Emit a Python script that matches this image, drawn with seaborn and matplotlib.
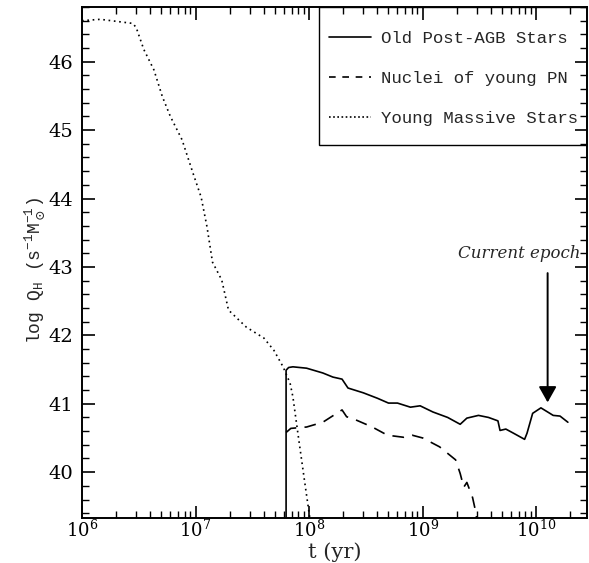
import numpy as np
import pandas as pd
import matplotlib
matplotlib.use("Agg")
import matplotlib.pyplot as plt
import matplotlib.ticker as mticker
from matplotlib.patches import Rectangle
from matplotlib.lines import Line2D
import seaborn as sns

# ---- data ----
young_t = [1.0e6, 1.45e6, 2.8e6, 3.0e6, 3.5e6, 4.3e6, 5.1e6, 6.0e6, 7.6e6, 9.5e6,
           1.12e7, 1.26e7, 1.41e7, 1.7e7, 1.95e7, 2.8e7, 4.0e7, 4.9e7, 5.9e7,
           6.8e7, 7.2e7, 7.9e7, 9.1e7, 1.02e8]
young_q = [46.60, 46.62, 46.56, 46.50, 46.18, 45.88, 45.49, 45.20, 44.86, 44.37,
           44.02, 43.59, 43.07, 42.81, 42.37, 42.12, 41.96, 41.78, 41.54,
           41.30, 41.10, 40.61, 39.88, 39.30]

old_t = [6.27e7, 6.27e7, 6.6e7, 7.2e7, 9.5e7, 1.32e8, 1.62e8, 1.95e8, 2.2e8, 3.0e8,
         4.0e8, 5.0e8, 6.0e8, 7.8e8, 9.5e8, 1.23e9, 1.66e9, 2.14e9, 2.45e9, 3.1e9,
         3.8e9, 4.6e9, 4.8e9, 5.4e9, 6.3e9, 7.9e9, 8.3e9, 9.3e9, 1.1e10, 1.26e10,
         1.41e10, 1.62e10, 1.9e10]
old_q = [39.0, 41.49, 41.53, 41.54, 41.52, 41.45, 41.39, 41.36, 41.23, 41.16,
         41.08, 41.01, 41.01, 40.95, 40.97, 40.88, 40.80, 40.70, 40.79, 40.83,
         40.80, 40.75, 40.61, 40.63, 40.57, 40.48, 40.57, 40.86, 40.94, 40.88,
         40.83, 40.82, 40.73]

pn_t = [6.27e7, 6.9e7, 9.5e7, 1.32e8, 1.95e8, 2.14e8, 2.45e8, 3.6e8, 4.9e8, 6.8e8,
        8.1e8, 1.0e9, 1.41e9, 1.95e9, 2.14e9, 2.3e9, 2.45e9, 2.75e9, 2.95e9, 3.0e9]
pn_q = [40.58, 40.64, 40.66, 40.73, 40.91, 40.81, 40.78, 40.66, 40.54, 40.51,
        40.54, 40.50, 40.37, 40.18, 39.98, 39.78, 39.85, 39.63, 39.40, 39.30]

labels = ["Old Post-AGB Stars", "Nuclei of young PN", "Young Massive Stars"]
x_ticks = [1e6, 1e7, 1e8, 1e9, 1e10]
y_ticks = [40, 41, 42, 43, 44, 45, 46]
epoch_t = 1.26e10
epoch_text = "Current epoch"

# ---- style ----
sns.set_theme(style="ticks")
plt.rcParams["font.family"] = ["DejaVu Serif"]
plt.rcParams["mathtext.fontset"] = "dejavuserif"

fig = plt.figure(figsize=(5.89, 5.63), dpi=100)
ax = fig.add_axes([82/589, 1-518/563, (587-82)/589, (518-7)/563])

lw = 1.2
sns.lineplot(x=old_t, y=old_q, ax=ax, color="black", lw=lw, sort=False,
             estimator=None, linestyle="-")
sns.lineplot(x=pn_t, y=pn_q, ax=ax, color="black", lw=lw, sort=False,
             estimator=None, dashes=False)
sns.lineplot(x=young_t, y=young_q, ax=ax, color="black", lw=lw, sort=False,
             estimator=None)
lines = ax.get_lines()
lines[1].set_linestyle((0, (7, 5)))
lines[2].set_linestyle((0, (1, 2.2)))

ax.set_xscale("log")
ax.set_xlim(1e6, 2.8e10)
ax.set_ylim(39.33, 46.8)
ax.xaxis.set_major_locator(mticker.FixedLocator(x_ticks))
ax.xaxis.set_major_formatter(mticker.LogFormatterSciNotation())
ax.xaxis.set_minor_locator(mticker.LogLocator(base=10, subs=np.arange(2, 10), numticks=50))
ax.xaxis.set_minor_formatter(mticker.NullFormatter())
ax.yaxis.set_major_locator(mticker.FixedLocator(y_ticks))
ax.yaxis.set_minor_locator(mticker.MultipleLocator(0.2))

ax.tick_params(which="both", direction="in", top=True, right=True, color="black",
               labelcolor="black")
ax.tick_params(which="major", length=9, width=1.2, labelsize=14)
ax.tick_params(axis="y", which="major", pad=6)
ax.tick_params(axis="x", which="major", pad=1, labelsize=13)
ax.tick_params(which="minor", length=5, width=1.0)
for s in ax.spines.values():
    s.set_linewidth(1.4)
    s.set_color("black")

ax.set_xlabel("t (yr)", fontsize=15)
ax.xaxis.set_label_coords(0.5, -0.048)
ax.set_ylabel(r"log Q$_\mathregular{H}$ (s$^\mathregular{-1}$M$_\odot^\mathregular{-1}$)",
              fontsize=13, family=["Liberation Mono"], va="center")
ax.yaxis.set_label_coords(-0.093, 0.485)

# legend box
ax.add_patch(Rectangle((0.469, 0.730), 0.531, 0.27, transform=ax.transAxes,
                       fill=False, edgecolor="black", lw=1.0, zorder=5))
handles = [Line2D([], [], color="black", lw=lw, linestyle="-"),
           Line2D([], [], color="black", lw=lw, linestyle=(0, (4, 4))),
           Line2D([], [], color="black", lw=lw, linestyle=(0, (1, 1.5)))]
leg = ax.legend(handles, labels, loc="upper left", bbox_to_anchor=(0.489, 0.954),
                frameon=False, borderpad=0, borderaxespad=0, handlelength=2.4,
                handletextpad=0.6, labelspacing=1.45,
                prop={"family": "Liberation Mono", "size": 12.5})

# current epoch arrow
ax.annotate("", xy=(epoch_t, 41.02), xytext=(epoch_t, 42.91),
            arrowprops=dict(arrowstyle="-|>,head_length=0.8,head_width=0.45",
                            color="black", lw=1.4, shrinkA=0, shrinkB=0))
ax.text(7.1e9, 43.20, epoch_text, ha="center", va="center", fontsize=12,
        style="italic", family=["DejaVu Serif"])

fig.savefig("out.png", dpi=100)
